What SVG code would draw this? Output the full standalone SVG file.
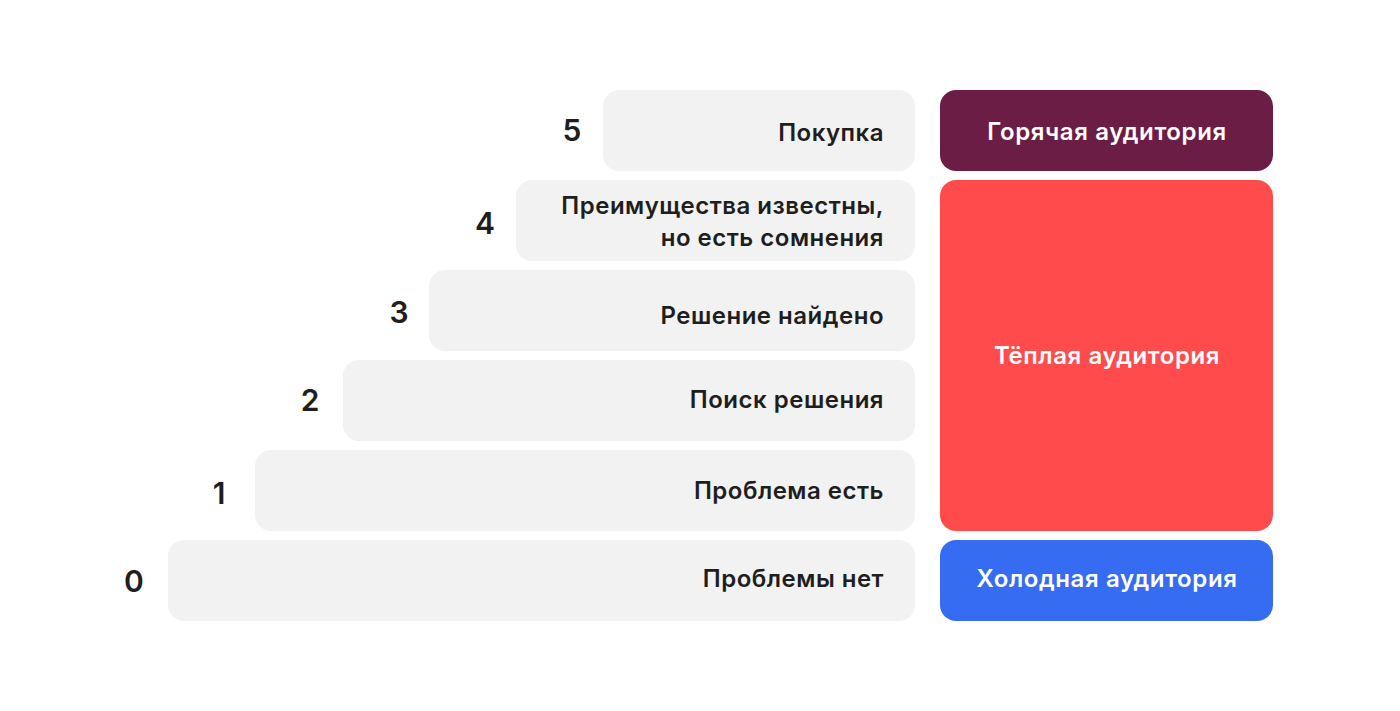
<svg xmlns="http://www.w3.org/2000/svg" width="1400" height="711" viewBox="0 0 1400 711">
<style>
.step{fill:#F2F2F2}
.lbl{font-family:Inter,"Liberation Sans",sans-serif;font-weight:600;font-size:24px;letter-spacing:0.5px;fill:#1E1E1E;text-anchor:end}
.num{font-family:Inter,"Liberation Sans",sans-serif;font-weight:600;font-size:30px;fill:#1E1E1E;text-anchor:middle}
.aud{font-family:Inter,"Liberation Sans",sans-serif;font-weight:600;font-size:24px;letter-spacing:0.6px;fill:#FFFFFF;text-anchor:middle}
</style>
<rect width="1400" height="711" fill="#FFFFFF"/>
<g id="step5"><rect class="step" x="603" y="90" width="312" height="81" rx="16"/><text class="num" x="572" y="141">5</text><text class="lbl" x="884" y="141">Покупка</text></g>
<g id="step4"><rect class="step" x="516" y="180" width="399" height="81" rx="16"/><text class="num" x="485" y="234">4</text><text class="lbl" x="884" y="214">Преимущества известны,</text><text class="lbl" x="884" y="246">но есть сомнения</text></g>
<g id="step3"><rect class="step" x="429" y="270" width="486" height="81" rx="16"/><text class="num" x="399" y="323">3</text><text class="lbl" x="884" y="324">Решение найдено</text></g>
<g id="step2"><rect class="step" x="343" y="360" width="572" height="81" rx="16"/><text class="num" x="310" y="411">2</text><text class="lbl" x="884" y="408">Поиск решения</text></g>
<g id="step1"><rect class="step" x="255" y="450" width="660" height="81" rx="16"/><text class="num" x="219" y="504">1</text><text class="lbl" x="884" y="499">Проблема есть</text></g>
<g id="step0"><rect class="step" x="168" y="540" width="747" height="81" rx="16"/><text class="num" x="134" y="592">0</text><text class="lbl" x="884" y="587">Проблемы нет</text></g>
<g id="hot"><rect x="940" y="90" width="333" height="81" rx="16" fill="#6B1D45"/><text class="aud" x="1107" y="140">Горячая аудитория</text></g>
<g id="warm"><rect x="940" y="180" width="333" height="351" rx="16" fill="#FF4B4B"/><text class="aud" x="1107" y="364">Тёплая аудитория</text></g>
<g id="cold"><rect x="940" y="540" width="333" height="81" rx="16" fill="#356CF2"/><text class="aud" x="1107" y="587">Холодная аудитория</text></g>
<g id="connectors"/>
</svg>
